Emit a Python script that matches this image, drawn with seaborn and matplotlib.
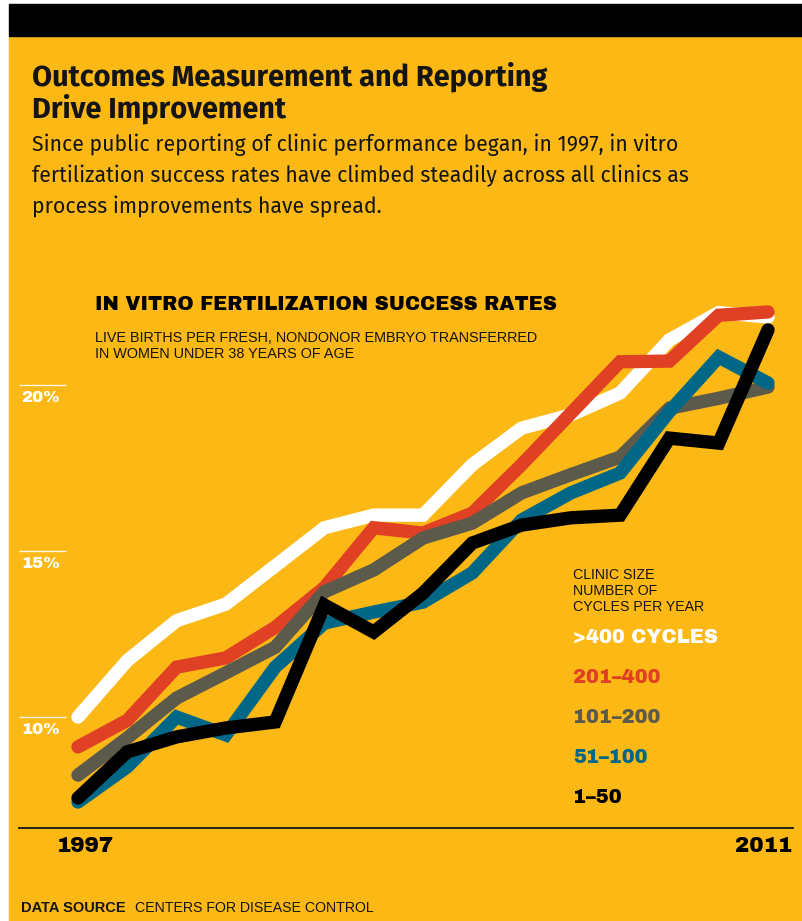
import pandas as pd
import seaborn as sns
import matplotlib.pyplot as plt
from matplotlib.patches import Rectangle
from matplotlib.transforms import blended_transform_factory

# values (percent)
years = list(range(1997, 2012))
over400 = [10.0, 11.7, 12.9, 13.4, 14.55, 15.7, 16.08, 16.08, 17.6, 18.7, 19.1, 19.76, 21.36, 22.18, 22.05]
c201_400 = [9.1, 9.9, 11.5, 11.78, 12.7, 13.9, 15.7, 15.54, 16.14, 17.6, 19.15, 20.7, 20.72, 22.1, 22.2]
c101_200 = [8.25, 9.37, 10.57, 11.33, 12.1, 13.77, 14.43, 15.39, 15.84, 16.75, 17.3, 17.83, 19.3, 19.6, 19.94]
c51_100 = [7.44, 8.5, 10.0, 9.46, 11.5, 12.83, 13.16, 13.46, 14.34, 15.93, 16.75, 17.35, 19.2, 20.84, 20.06]
c1_50 = [7.56, 8.95, 9.4, 9.67, 9.85, 13.37, 12.56, 13.73, 15.24, 15.78, 16.0, 16.08, 18.4, 18.25, 21.66]

groups = ['>400 CYCLES', '201–400', '101–200', '51–100', '1–50']
colors = ['#FFFFFF', '#E04124', '#5B5A4B', '#006886', '#000000']
yticks = [10, 15, 20]

df = pd.DataFrame({
    'year': years * 5,
    'rate': over400 + c201_400 + c101_200 + c51_100 + c1_50,
    'size': sum([[g] * len(years) for g in groups], []),
})

W, H = 802, 921
YELLOW = '#FCB814'
INK = '#141414'

sns.set_theme(style='white')
narrow = ['Fira Sans', 'Roboto Condensed', 'Liberation Sans', 'DejaVu Sans']
heavy = ['Archivo Black', 'DejaVu Sans']
plain = ['Liberation Sans', 'DejaVu Sans']
plt.rcParams['font.family'] = plain

fig = plt.figure(figsize=(W / 100, H / 100), dpi=100)
fig.patch.set_facecolor('white')

def fx(px):
    return px / W

def fy(py):
    return 1 - py / H

# backgrounds
fig.patches.append(Rectangle((fx(9), fy(921)), fx(802) - fx(9), fy(36) - fy(921),
                             transform=fig.transFigure, color=YELLOW, zorder=-10))
fig.patches.append(Rectangle((fx(9), fy(36)), fx(802) - fx(9), fy(4) - fy(36),
                             transform=fig.transFigure, color='black', zorder=-10))

# axes: 1997 at px 78, 2011 at px 768; 10% at px 717, 20% at px 385
left_px, right_px, top_px, bot_px = 19, 793, 290, 828
px_year = (768 - 78) / 14
px_pct = (717 - 385) / 10
ax = fig.add_axes([fx(left_px), fy(bot_px), fx(right_px) - fx(left_px), fy(top_px) - fy(bot_px)])
ax.set_facecolor('none')

sns.lineplot(data=df, x='year', y='rate', hue='size', hue_order=groups,
             palette=colors, linewidth=9.6, legend=False, ax=ax,
             solid_capstyle='round', solid_joinstyle='miter', clip_on=False)

ax.set_xlim(1997 - (78 - left_px) / px_year, 2011 + (right_px - 768) / px_year)
ax.set_ylim(10 - (bot_px - 717) / px_pct, 10 + (717 - top_px) / px_pct)
ax.set_xticks([])
ax.set_yticks([])
ax.set_xlabel('')
ax.set_ylabel('')
for s in ['top', 'right', 'left']:
    ax.spines[s].set_visible(False)
ax.spines['bottom'].set_color(INK)
ax.spines['bottom'].set_linewidth(1.3)

# y labels: short white rule at the value, label below it
tr = blended_transform_factory(ax.transAxes, ax.transData)
for v in yticks:
    ax.hlines(v, 0, (66 - left_px) / (right_px - left_px), transform=tr,
              color='white', linewidth=1.0, alpha=0.9)
    ax.text(2 / (right_px - left_px), v - 0.16, f'{v}%', transform=tr,
            color='white', fontsize=12, family=heavy, ha='left', va='top')

# x labels
ybot = ax.get_ylim()[0]
ax.text(1997 - 0.43, ybot - 0.25, '1997', color='black', fontsize=15.5,
        family=heavy, ha='left', va='top')
ax.text(2011 + 0.49, ybot - 0.25, '2011', color='black', fontsize=15.5,
        family=heavy, ha='right', va='top')

# headline and deck
fig.text(fx(32), fy(86), 'Outcomes Measurement and Reporting', fontsize=20.9,
         fontweight='bold', family=narrow, color=INK, va='baseline')
fig.text(fx(32), fy(118), 'Drive Improvement', fontsize=20.9,
         fontweight='bold', family=narrow, color=INK, va='baseline')
deck = ['Since public reporting of clinic performance began, in 1997, in vitro',
        'fertilization success rates have climbed steadily across all clinics as',
        'process improvements have spread.']
for i, line in enumerate(deck):
    fig.text(fx(32), fy(151 + 31 * i), line, fontsize=15.3, family=narrow,
             color=INK, va='baseline')

# chart title
fig.text(fx(95), fy(310), 'IN VITRO FERTILIZATION SUCCESS RATES', fontsize=14,
         family=heavy, color='black', va='baseline')
fig.text(fx(95), fy(342), 'LIVE BIRTHS PER FRESH, NONDONOR EMBRYO TRANSFERRED',
         fontsize=10.4, color=INK, va='baseline')
fig.text(fx(95), fy(358), 'IN WOMEN UNDER 38 YEARS OF AGE',
         fontsize=10.4, color=INK, va='baseline')

# legend
for i, line in enumerate(['CLINIC SIZE', 'NUMBER OF', 'CYCLES PER YEAR']):
    fig.text(fx(573), fy(579 + 16 * i), line, fontsize=10.2, color=INK, va='baseline')
for i, (g, c) in enumerate(zip(groups, colors)):
    fig.text(fx(573), fy(643 + 40 * i), g, fontsize=14,
             family=heavy, color=c, va='baseline')

# source
fig.text(fx(21), fy(912), 'DATA SOURCE', fontsize=10.5, fontweight='bold',
         color=INK, va='baseline')
fig.text(fx(135), fy(912), 'CENTERS FOR DISEASE CONTROL', fontsize=10.2,
         color=INK, va='baseline')

fig.savefig('out.png', dpi=100, facecolor=fig.get_facecolor())
